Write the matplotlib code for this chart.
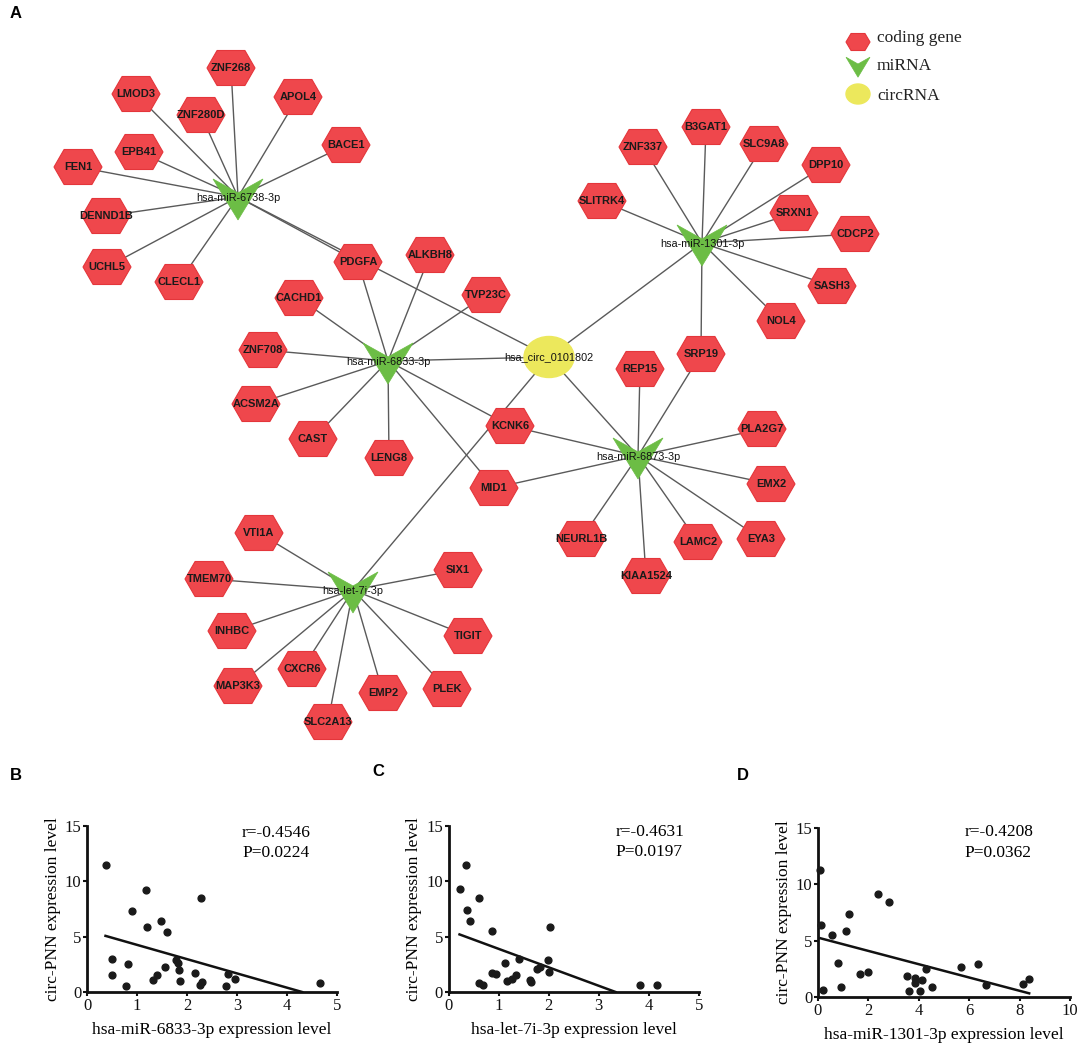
import numpy as np
import matplotlib
matplotlib.use("Agg")
import matplotlib.pyplot as plt
from matplotlib.patches import Polygon, Ellipse

# ---------------- network data ----------------
circ_name = "hsa_circ_0101802"
mirnas = ["hsa-miR-6738-3p", "hsa-miR-6833-3p", "hsa-miR-1301-3p",
          "hsa-miR-6873-3p", "hsa-let-7i-3p"]
targets = {
    "hsa-miR-6738-3p": ["ZNF268", "LMOD3", "APOL4", "ZNF280D", "BACE1", "EPB41",
                        "FEN1", "DENND1B", "UCHL5", "CLECL1", "PDGFA"],
    "hsa-miR-6833-3p": ["PDGFA", "ALKBH8", "CACHD1", "TVP23C", "ZNF708", "ACSM2A",
                        "CAST", "LENG8", "KCNK6", "MID1"],
    "hsa-miR-1301-3p": ["B3GAT1", "ZNF337", "SLC9A8", "DPP10", "SLITRK4", "SRXN1",
                        "CDCP2", "SASH3", "NOL4", "SRP19"],
    "hsa-miR-6873-3p": ["REP15", "SRP19", "KCNK6", "PLA2G7", "MID1", "EMX2",
                        "NEURL1B", "LAMC2", "EYA3", "KIAA1524"],
    "hsa-let-7i-3p": ["VTI1A", "TMEM70", "INHBC", "CXCR6", "MAP3K3", "SLC2A13",
                      "EMP2", "PLEK", "TIGIT", "SIX1"],
}

# layout of the network (pixel positions, y downwards)
pos = {
    circ_name: (549, 357),
    "hsa-miR-6738-3p": (238, 197), "hsa-miR-6833-3p": (388, 361),
    "hsa-miR-1301-3p": (702, 243), "hsa-miR-6873-3p": (638, 456),
    "hsa-let-7i-3p": (353, 590),
    "ZNF268": (231, 68), "LMOD3": (136, 94), "APOL4": (298, 97), "ZNF280D": (201, 115),
    "BACE1": (346, 145), "EPB41": (139, 152), "FEN1": (78, 167), "DENND1B": (106, 216),
    "UCHL5": (107, 267), "CLECL1": (179, 282), "PDGFA": (358, 262),
    "ALKBH8": (430, 255), "CACHD1": (299, 298), "TVP23C": (486, 295), "ZNF708": (263, 350),
    "ACSM2A": (256, 404), "CAST": (313, 439), "LENG8": (389, 458), "KCNK6": (510, 426),
    "MID1": (494, 488),
    "B3GAT1": (706, 127), "ZNF337": (643, 147), "SLC9A8": (764, 144), "DPP10": (826, 165),
    "SLITRK4": (602, 201), "SRXN1": (794, 213), "CDCP2": (855, 234), "SASH3": (832, 286),
    "NOL4": (781, 321), "SRP19": (701, 354),
    "REP15": (640, 369), "PLA2G7": (762, 429), "EMX2": (771, 484), "NEURL1B": (581, 539),
    "LAMC2": (698, 542), "EYA3": (761, 539), "KIAA1524": (646, 576),
    "VTI1A": (259, 533), "TMEM70": (209, 579), "INHBC": (232, 631), "CXCR6": (302, 669),
    "MAP3K3": (238, 686), "SLC2A13": (328, 722), "EMP2": (383, 693), "PLEK": (447, 689),
    "TIGIT": (468, 636), "SIX1": (458, 570),
}

legend_labels = ["coding gene", "miRNA", "circRNA"]

# ---------------- correlation data ----------------
b_x = [0.37, 0.49, 0.50, 0.77, 0.82, 0.90, 1.17, 1.19, 1.32, 1.40, 1.48, 1.55, 1.59,
       1.78, 1.81, 1.83, 1.85, 2.16, 2.27, 2.25, 2.29, 2.77, 2.82, 2.96, 4.66]
b_y = [11.45, 1.57, 3.01, 0.54, 2.53, 7.35, 9.22, 5.84, 1.11, 1.54, 6.42, 2.23, 5.45,
       2.86, 2.62, 1.96, 1.02, 1.75, 8.46, 0.60, 0.87, 0.54, 1.66, 1.14, 0.84]
b_fit = (5.55, -1.29)

c_x = [0.34, 0.22, 0.61, 0.36, 0.43, 0.87, 2.03, 1.13, 1.41, 1.99, 1.77, 1.82, 2.00,
       0.86, 0.94, 1.16, 1.26, 1.35, 1.62, 1.65, 0.60, 0.68, 3.82, 4.17]
c_y = [11.5, 9.3, 8.5, 7.4, 6.4, 5.5, 5.9, 2.6, 3.0, 2.9, 2.1, 2.3, 1.8,
       1.7, 1.6, 1.0, 1.15, 1.5, 1.1, 0.9, 0.8, 0.6, 0.6, 0.6]
c_fit = (5.57, -1.67)

d_x = [0.09, 0.13, 0.18, 0.55, 0.79, 0.91, 1.11, 1.22, 1.68, 1.97, 2.40, 2.83, 3.53,
       3.62, 3.86, 3.83, 4.06, 4.13, 4.28, 4.54, 5.68, 6.34, 6.66, 8.14, 8.38]
d_y = [11.3, 6.36, 0.6, 5.46, 2.99, 0.93, 5.82, 7.34, 2.0, 2.24, 9.16, 8.45, 1.82,
       0.57, 1.73, 1.22, 0.54, 1.55, 2.51, 0.9, 2.66, 2.9, 1.07, 1.19, 1.61]
d_fit = (5.27, -0.59)

stats = [("r=-0.4546", "P=0.0224"), ("r=-0.4631", "P=0.0197"), ("r=-0.4208", "P=0.0362")]
xlabels = ["hsa-miR-6833-3p expression level", "hsa-let-7i-3p expression level",
           "hsa-miR-1301-3p expression level"]

# ---------------- drawing ----------------
W, H = 1084, 1044
RED, RED_EDGE = "#EF474C", "#E4363B"
GREEN = "#6CBD45"
YELLOW = "#ECE85C"
EDGE = "#5a5a5a"

fig = plt.figure(figsize=(W / 100, H / 100), dpi=100)
net = fig.add_axes([0, 0, 1, 1])
net.set_xlim(0, W)
net.set_ylim(H, 0)
net.axis("off")


def hexagon(ax, cx, cy, w=48, h=35):
    pts = [(cx - w / 2, cy), (cx - 0.29 * w, cy - h / 2), (cx + 0.29 * w, cy - h / 2),
           (cx + w / 2, cy), (cx + 0.29 * w, cy + h / 2), (cx - 0.29 * w, cy + h / 2)]
    ax.add_patch(Polygon(pts, closed=True, fc=RED, ec=RED_EDGE, lw=0.8, zorder=2))


def vshape(ax, cx, cy, w=50, h=41):
    pts = [(cx - w / 2, cy - 0.44 * h), (cx, cy - 0.1 * h),
           (cx + w / 2, cy - 0.44 * h), (cx, cy + 0.56 * h)]
    ax.add_patch(Polygon(pts, closed=True, fc=GREEN, ec=GREEN, lw=0.5, zorder=2))


# edges
for m in mirnas:
    for t in [circ_name] + targets[m]:
        (x1, y1), (x2, y2) = pos[m], pos[t]
        net.plot([x1, x2], [y1, y2], color=EDGE, lw=1.0, zorder=1)

# nodes
genes = []
for m in mirnas:
    for t in targets[m]:
        if t not in genes:
            genes.append(t)
for g in genes:
    x, y = pos[g]
    hexagon(net, x, y)
    net.text(x, y, g, ha="center", va="center", fontsize=8, fontweight="bold",
             family="Liberation Sans", color="#1a1a1a", zorder=3)
for m in mirnas:
    x, y = pos[m]
    vshape(net, x, y)
    net.text(x, y + 1, m, ha="center", va="center", fontsize=7.8,
             family="Liberation Sans", color="#111111", zorder=3)
cx, cy = pos[circ_name]
net.add_patch(Ellipse((cx, cy), 50, 41, fc=YELLOW, ec=YELLOW, zorder=2))
net.text(cx, cy, circ_name, ha="center", va="center", fontsize=7.8,
         family="Liberation Sans", color="#111111", zorder=3)

# legend
hexagon(net, 858, 42, w=24, h=17)
vshape(net, 858, 66, w=24, h=20)
net.add_patch(Ellipse((858, 94), 24, 20, fc=YELLOW, ec=YELLOW, zorder=2))
for lab, ly in zip(legend_labels, [38, 66, 96]):
    net.text(877, ly, lab, ha="left", va="center", fontsize=12.5,
             family="Liberation Serif", color="#222222")

# panel letters
for lab, lx, ly in [("A", 10, 14), ("B", 10, 775), ("C", 372, 771), ("D", 737, 775)]:
    net.text(lx, ly, lab, ha="left", va="center", fontsize=12, fontweight="bold",
             family="Liberation Sans")

# scatter panels
panels = [
    ([87, 992, 250, 166], b_x, b_y, b_fit, 5, [0, 1, 2, 3, 4, 5], (0.62, 0.96, 0.84)),
    ([448.5, 992, 250.5, 166], c_x, c_y, c_fit, 5, [0, 1, 2, 3, 4, 5], (0.667, 0.965, 0.845)),
    ([818, 997, 252, 169], d_x, d_y, d_fit, 10, [0, 2, 4, 6, 8, 10], (0.583, 0.975, 0.855)),
]
for i, (box, xs, ys, fit, xmax, xt, tp) in enumerate(panels):
    l, b, w, h = box
    ax = fig.add_axes([l / W, (H - b) / H, w / W, h / H])
    ax.scatter(xs, ys, s=24, color="#1a1a1a", zorder=3, clip_on=False)
    b0, m0 = fit
    x0 = min(xs)
    x1 = min(max(xs), -b0 / m0)
    ax.plot([x0, x1], [b0 + m0 * x0, b0 + m0 * x1], color="#111111", lw=1.8, zorder=2)
    ax.set_xlim(0, xmax)
    ax.set_ylim(0, 15)
    ax.set_xticks(xt)
    ax.set_yticks([0, 5, 10, 15])
    for s in ["top", "right"]:
        ax.spines[s].set_visible(False)
    for s in ["left", "bottom"]:
        ax.spines[s].set_linewidth(2.0)
        ax.spines[s].set_color("#111111")
    ax.tick_params(direction="out", length=3, width=1.5, labelsize=12, pad=1,
                   colors="#111111")
    for t in ax.get_xticklabels() + ax.get_yticklabels():
        t.set_family("Liberation Serif")
    ax.set_xlabel(xlabels[i], family="Liberation Serif", fontsize=12.5, labelpad=6)
    ax.set_ylabel("circ-PNN expression level", family="Liberation Serif",
                  fontsize=12.5, labelpad=3)
    ax.patch.set_alpha(0)
    ax.text(tp[0], tp[1], stats[i][0], transform=ax.transAxes, ha="left", va="center",
            family="Liberation Serif", fontsize=12.5)
    ax.text(tp[0], tp[2], stats[i][1], transform=ax.transAxes, ha="left", va="center",
            family="Liberation Serif", fontsize=12.5)

fig.savefig("out.png", dpi=100)
